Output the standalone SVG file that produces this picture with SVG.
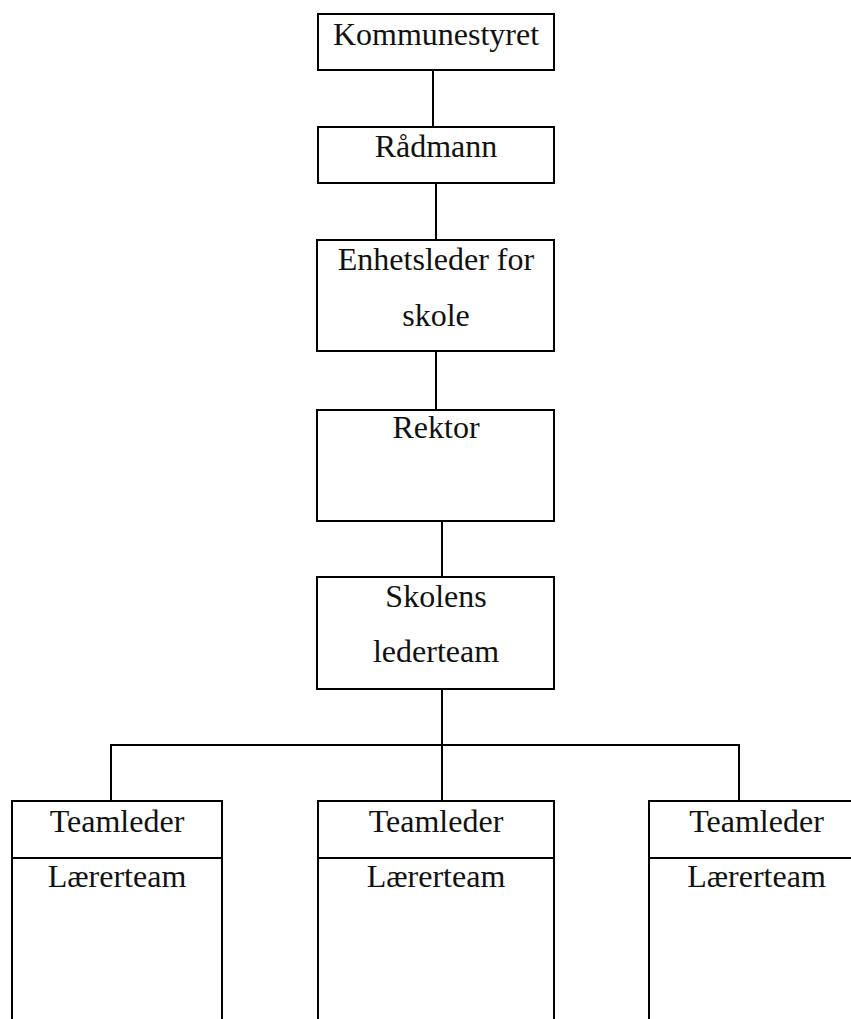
<svg xmlns="http://www.w3.org/2000/svg" width="851" height="1019" viewBox="0 0 851 1019">
<style>
.box{fill:#fff;stroke:#000;stroke-width:2}
.ln{fill:none;stroke:#000;stroke-width:2}
text{font-family:"Liberation Serif","Times New Roman",serif;font-size:32px;fill:#111;text-anchor:middle}
</style>
<rect width="851" height="1019" fill="#fff"/>
<g id="connectors">
<line class="ln" x1="433" y1="70" x2="433" y2="127"/>
<line class="ln" x1="436" y1="183" x2="436" y2="240"/>
<line class="ln" x1="436" y1="351" x2="436" y2="410"/>
<line class="ln" x1="442" y1="521" x2="442" y2="577"/>
<line class="ln" x1="442" y1="689" x2="442" y2="801"/>
<polyline class="ln" points="111,801 111,745 739,745 739,801"/>
</g>
<g id="kommunestyret">
<rect class="box" x="318" y="14" width="236" height="56"/>
<text x="436" y="45">Kommunestyret</text>
</g>
<g id="radmann">
<rect class="box" x="318" y="127" width="236" height="56"/>
<text x="436" y="157">Rådmann</text>
</g>
<g id="enhetsleder">
<rect class="box" x="317" y="240" width="237" height="111"/>
<text x="436" y="270">Enhetsleder for</text>
<text x="436" y="326">skole</text>
</g>
<g id="rektor">
<rect class="box" x="317" y="410" width="237" height="111"/>
<text x="436" y="438">Rektor</text>
</g>
<g id="lederteam">
<rect class="box" x="317" y="577" width="237" height="112"/>
<text x="436" y="607">Skolens</text>
<text x="436" y="662">lederteam</text>
</g>
<g id="team1">
<rect class="box" x="12" y="801" width="210" height="240"/>
<line class="ln" x1="12" y1="858" x2="222" y2="858"/>
<text x="117" y="832">Teamleder</text>
<text x="117" y="887">Lærerteam</text>
</g>
<g id="team2">
<rect class="box" x="318" y="801" width="236" height="240"/>
<line class="ln" x1="318" y1="858" x2="554" y2="858"/>
<text x="436" y="832">Teamleder</text>
<text x="436" y="887">Lærerteam</text>
</g>
<g id="team3">
<rect class="box" x="649" y="801" width="215" height="240"/>
<line class="ln" x1="649" y1="858" x2="864" y2="858"/>
<text x="756.5" y="832">Teamleder</text>
<text x="756.5" y="887">Lærerteam</text>
</g>
</svg>
